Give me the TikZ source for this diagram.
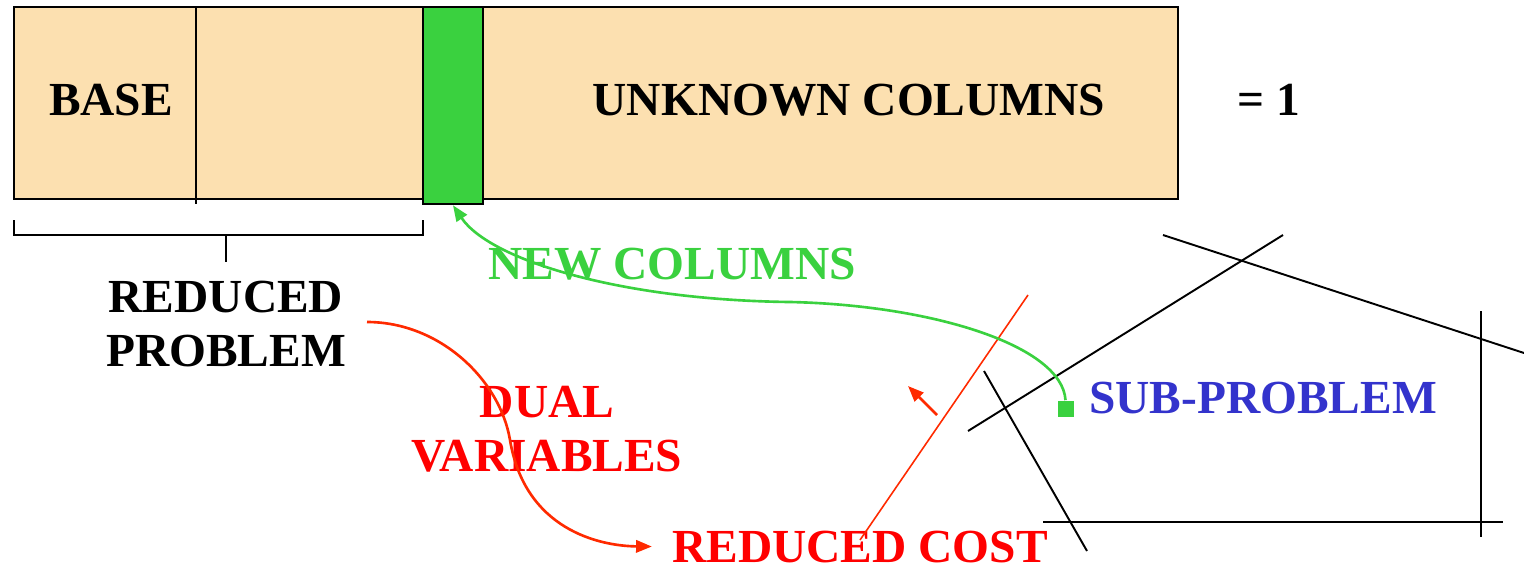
\documentclass[tikz,border=0pt]{standalone}
\usepackage{fontspec}
\setmainfont{Liberation Serif}
\usetikzlibrary{arrows.meta}
\definecolor{wheatbox}{HTML}{FCE0B0}
\definecolor{colgreen}{HTML}{3AD13F}
\definecolor{subblue}{HTML}{3333CC}
\definecolor{dualred}{HTML}{FF2A00}
\begin{document}
\begin{tikzpicture}[x=0.02cm, y=-0.02cm, >={Triangle[length=9pt,width=7pt]},
    lbl/.style={font=\bfseries\fontsize{27}{31}\selectfont, align=center, inner sep=0pt},
    edge/.style={black, line width=1.1pt},
    flow/.style={line width=1.5pt}]
\useasboundingbox (0,0) rectangle (1524,572);
% bloc des colonnes
\draw[fill=wheatbox, line width=1.1pt] (14,7) rectangle (1178,199);
\draw[line width=1.1pt] (196,7) -- (196,204);
\node[draw=black, line width=1.5pt, fill=colgreen, minimum width=1.2cm, minimum height=3.94cm, inner sep=0pt] (newcol) at (453,105.5) {};
\node[lbl, anchor=base] (base) at (111,115) {BASE};
\node[lbl, anchor=base] (unknown) at (849,115) {UNKNOWN COLUMNS};
\node[lbl, anchor=base] (eqone) at (1269,115) {= 1};
% accolade du probleme reduit
\draw[line width=1.1pt] (14,220) -- (14,235) -- (423,235) -- (423,220);
\draw[line width=1.1pt] (226,235) -- (226,262);
\node[lbl] (redprob) at (226,324) {REDUCED\\PROBLEM};
\node[lbl, colgreen, anchor=base] (newlbl) at (672,279) {NEW COLUMNS};
\node[lbl, red] (dual) at (547,429) {DUAL\\VARIABLES};
\node[lbl, red, anchor=base] (rc) at (860,562) {REDUCED COST};
\node[lbl, subblue, anchor=base] (sub) at (1263,413) {SUB-PROBLEM};
% polyedre du sous-probleme
\draw[edge] (1163,235) -- (1524,353);
\draw[edge] (1283,235) -- (968,431);
\draw[edge] (984,371) -- (1087,551);
\draw[edge, line width=1.4pt] (1043,522) -- (1503,522);
\draw[edge] (1481,311) -- (1481,537);
\draw[dualred, line width=0.9pt] (1028,295) -- (860,540);
\coordinate (gradtail) at (937,415);
\coordinate (gradtip) at (908,386);
\draw[dualred, flow, ->] (gradtail) -- (gradtip);
% fleches
\node[fill=colgreen, minimum size=0.32cm, inner sep=0pt] (sq) at (1065.5,408.5) {};
\coordinate (dv) at (367,322);
\draw[colgreen, flow, ->] (sq.north) .. controls (1062,345) and (930,305) .. (790,302)
    .. controls (620,300) and (490,260) .. (newcol.south);
\draw[dualred, flow, ->] (dv) .. controls (440,322) and (500,380) .. (510,440)
    .. controls (525,530) and (600,546) .. ([xshift=-0.4cm]rc.west);
\end{tikzpicture}
\end{document}
